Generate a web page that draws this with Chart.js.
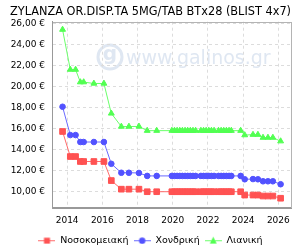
<!DOCTYPE html>
<html><head><meta charset="utf-8">
<script src="https://cdn.jsdelivr.net/npm/chart.js@4"></script>
<style>html,body{margin:0;padding:0;background:#fff}</style>
</head><body>
<canvas id="c" width="300" height="250"></canvas>
<script>
const titleText = "ZYLANZA OR.DISP.TA 5MG/TAB BTx28 (BLIST 4x7)";
const seriesNames = ["Νοσοκομειακή", "Χονδρική", "Λιανική"];
const dates = [
  2013.74, 2014.18, 2014.48, 2014.75, 2014.94, 2015.52, 2016.09, 2016.51, 2017.08, 2017.51, 2018.08, 2018.55, 2019.09,
  2019.95, 2020.10, 2020.25, 2020.40, 2020.55, 2020.70, 2020.85, 2021.00, 2021.15, 2021.30, 2021.60, 2021.75, 2021.90,
  2022.05, 2022.20, 2022.35, 2022.60, 2022.75, 2022.90, 2023.05, 2023.20, 2023.33,
  2023.86, 2024.09, 2024.56, 2024.84, 2025.13, 2025.41, 2025.69, 2026.13
];
const hospital = [
  15.72, 13.34, 13.34, 12.87, 12.87, 12.87, 12.87, 11.06, 10.24, 10.24, 10.24, 10.00, 10.00,
  10.00, 10.00, 10.00, 10.00, 10.00, 10.00, 10.00, 10.00, 10.00, 10.00, 10.00, 10.00, 10.00,
  10.00, 10.00, 10.00, 10.00, 10.00, 10.00, 10.00, 10.00, 10.00,
  10.00, 9.68, 9.68, 9.68, 9.59, 9.59, 9.59, 9.38
];
const wholesale = [
  18.07, 15.38, 15.38, 14.72, 14.72, 14.72, 14.72, 12.65, 11.80, 11.80, 11.78, 11.50, 11.50,
  11.50, 11.50, 11.50, 11.50, 11.50, 11.50, 11.50, 11.50, 11.50, 11.50, 11.50, 11.50, 11.50,
  11.50, 11.50, 11.50, 11.50, 11.50, 11.50, 11.50, 11.50, 11.50,
  11.50, 11.18, 11.20, 11.18, 10.99, 10.99, 10.99, 10.71
];
const retail = [
  25.40, 21.60, 21.60, 20.41, 20.41, 20.28, 20.28, 17.44, 16.19, 16.19, 16.20, 15.80, 15.80,
  15.80, 15.80, 15.80, 15.80, 15.80, 15.80, 15.80, 15.80, 15.80, 15.80, 15.80, 15.80, 15.80,
  15.80, 15.80, 15.80, 15.80, 15.80, 15.80, 15.80, 15.80, 15.80,
  15.80, 15.38, 15.42, 15.42, 15.14, 15.14, 15.14, 14.80
];
const yTicks = [10, 12, 14, 16, 18, 20, 22, 24, 26];
const xTicks = [2014, 2016, 2018, 2020, 2022, 2024, 2026];

const colors = ['#ff5252', '#5252ff', '#52ff52'];
const lineColors = ['#ff6a6a', '#6a6aff', '#6aff6a'];
const styles = ['rect', 'circle', 'triangle'];
const radii = [4, 2.8, 3.4];

function pts(vals) { return dates.map((d, i) => ({ x: d, y: vals[i] })); }

function legendImg(i) {
  const c = document.createElement('canvas');
  c.width = 17; c.height = 8;
  const g = c.getContext('2d');
  g.strokeStyle = lineColors[i]; g.lineWidth = 1;
  g.beginPath(); g.moveTo(0, 4.5); g.lineTo(17, 4.5); g.stroke();
  g.fillStyle = colors[i];
  if (i === 0) { g.fillRect(5.5, 1.5, 6, 6); }
  else if (i === 1) { g.beginPath(); g.arc(8.5, 4.5, 3.2, 0, Math.PI * 2); g.fill(); }
  else { g.beginPath(); g.moveTo(8.5, 0.5); g.lineTo(12, 7.5); g.lineTo(5, 7.5); g.closePath(); g.fill(); }
  return c;
}

Chart.defaults.font.family = "'DejaVu Sans', sans-serif";
Chart.defaults.color = '#000';

const watermark = {
  id: 'watermark',
  beforeDraw(chart) {
    const ctx = chart.ctx;
    ctx.save();
    ctx.strokeStyle = '#dfe7f2';
    ctx.fillStyle = '#dfe7f2';
    ctx.lineWidth = 3;
    ctx.beginPath(); ctx.arc(110, 57, 12, 0, Math.PI * 2); ctx.stroke();
    ctx.font = "bold 20px 'DejaVu Sans'";
    ctx.textAlign = 'center'; ctx.textBaseline = 'middle';
    ctx.fillText('g', 110, 55);
    ctx.textAlign = 'left'; ctx.textBaseline = 'alphabetic';
    ctx.font = "19px 'DejaVu Sans'";
    ctx.fillText('www.galinos.gr', 126, 64);
    ctx.restore();
  }
};
const frame = {
  id: 'frame',
  afterDatasetsDraw(chart) {
    const a = chart.chartArea, ctx = chart.ctx;
    ctx.save();
    ctx.strokeStyle = '#b4b4b4'; ctx.lineWidth = 1;
    ctx.strokeRect(Math.round(a.left) + 0.5, Math.round(a.top) + 0.5, Math.round(a.right - a.left), Math.round(a.bottom - a.top));
    ctx.strokeStyle = '#999';
    ctx.beginPath();
    ctx.moveTo(Math.round(a.left) + 0.5, Math.round(a.top));
    ctx.lineTo(Math.round(a.left) + 0.5, Math.round(a.bottom) + 0.5);
    ctx.lineTo(Math.round(a.right) + 1, Math.round(a.bottom) + 0.5);
    ctx.stroke();
    ctx.restore();
  }
};

new Chart(document.getElementById('c'), {
  type: 'line',
  data: {
    datasets: [hospital, wholesale, retail].map((v, i) => ({
      label: seriesNames[i],
      data: pts(v),
      borderColor: lineColors[i],
      backgroundColor: colors[i],
      pointBackgroundColor: colors[i],
      pointBorderColor: colors[i],
      pointBorderWidth: 1,
      pointStyle: styles[i],
      pointRadius: radii[i],
      borderWidth: 1,
      tension: 0,
      fill: false
    }))
  },
  options: {
    responsive: false,
    animation: false,
    layout: { padding: { left: 10, right: 9, top: 1, bottom: -5 } },
    scales: {
      x: {
        type: 'linear',
        min: 2013.14,
        max: 2026.72,
        afterBuildTicks(s) { s.ticks = xTicks.map(v => ({ value: v })); },
        afterFit(s) { s.height = 23; },
        ticks: { font: { size: 9 }, padding: 8, maxRotation: 0, autoSkip: false, callback: v => String(v) },
        grid: { color: '#dcdcdc', drawTicks: false },
        border: { dash: [3, 3], color: '#999' }
      },
      y: {
        min: 8.5,
        max: 26.15,
        afterBuildTicks(s) { s.ticks = yTicks.map(v => ({ value: v })); },
        afterFit(s) { s.width = 42; },
        ticks: { font: { size: 9 }, padding: 7, callback: v => v.toFixed(2).replace('.', ',') + ' €' },
        grid: { color: '#dcdcdc', drawTicks: false },
        border: { dash: [3, 3], color: '#999' }
      }
    },
    plugins: {
      title: {
        display: true, text: titleText, align: 'start',
        font: { size: 11.4, weight: 'normal' }, color: '#000',
        padding: { top: 4, bottom: 3 }
      },
      legend: {
        position: 'bottom',
        labels: {
          usePointStyle: true,
          pointStyleWidth: 17,
          padding: 5,
          font: { size: 9.5 },
          color: '#000',
          generateLabels(chart) {
            return chart.data.datasets.map((d, i) => ({
              text: d.label, pointStyle: legendImg(i), datasetIndex: i,
              fillStyle: colors[i], strokeStyle: colors[i], lineWidth: 0, hidden: false
            }));
          }
        }
      },
      tooltip: { enabled: false }
    }
  },
  plugins: [watermark, frame]
});
</script>
</body></html>
